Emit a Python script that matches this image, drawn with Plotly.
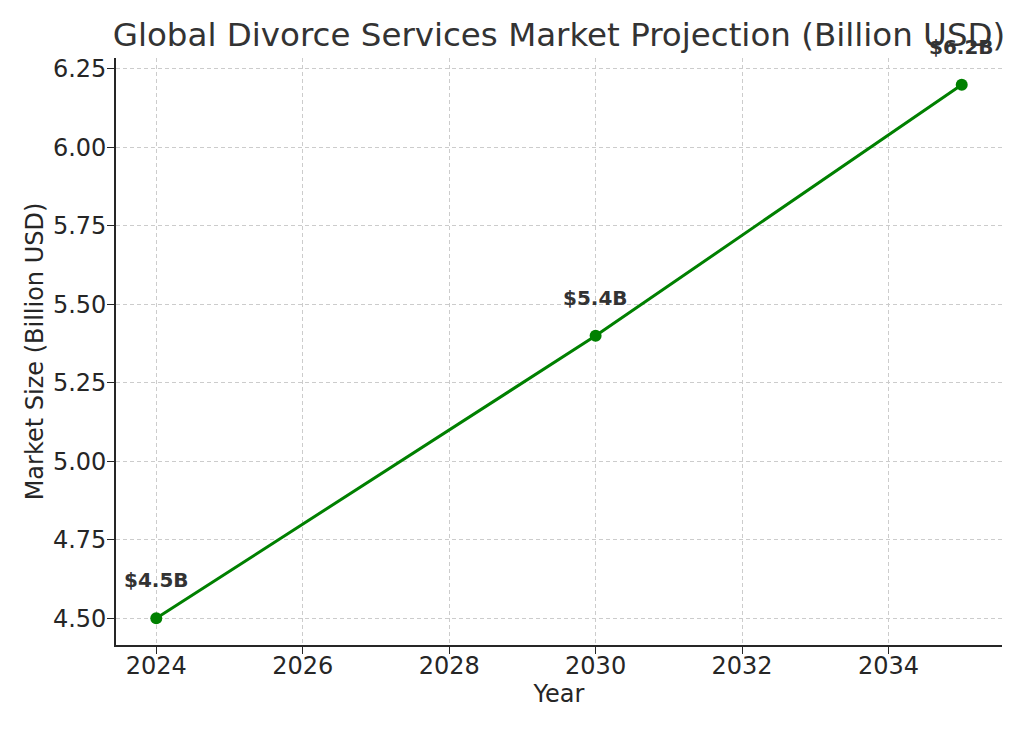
import plotly.graph_objects as go

years = [2024, 2030, 2035]
market_size = [4.5, 5.4, 6.2]
labels = ["$4.5B", "$5.4B", "$6.2B"]
x_ticks = [2024, 2026, 2028, 2030, 2032, 2034]
y_ticks = [4.50, 4.75, 5.00, 5.25, 5.50, 5.75, 6.00, 6.25]

FONT = "DejaVu Sans"
TXT = "#262626"

fig = go.Figure()
fig.add_trace(go.Scatter(
    x=years, y=market_size, mode="lines+markers",
    line=dict(color="#008000", width=3),
    marker=dict(color="#008000", size=12),
    showlegend=False, hoverinfo="skip",
))

for xv, yv, t in zip(years, market_size, labels):
    fig.add_annotation(
        x=xv, y=yv, xref="x", yref="y", text="<b>%s</b>" % t,
        showarrow=False, yshift=38, yanchor="middle", xanchor="center",
        font=dict(family=FONT, size=20, color="#333333"),
    )

span_x = years[-1] - years[0]
span_y = max(market_size) - min(market_size)

fig.update_layout(
    width=1024, height=731,
    margin=dict(l=116, r=22, t=58, b=86),
    paper_bgcolor="white", plot_bgcolor="white",
    font=dict(family=FONT, color=TXT, size=24),
    title=dict(
        text="Global Divorce Services Market Projection (Billion USD)",
        x=0.5, xref="paper", xanchor="center",
        y=1 - 35 / 731, yref="container", yanchor="middle",
        font=dict(family=FONT, size=32.5, color="#333333"),
    ),
    xaxis=dict(
        range=[years[0] - 0.05 * span_x, years[-1] + 0.05 * span_x],
        tickmode="array", tickvals=x_ticks, ticktext=[str(v) for v in x_ticks],
        ticks="outside", ticklen=7, tickwidth=1.3, tickcolor=TXT,
        ticklabelstandoff=-9,
        showline=True, linecolor=TXT, linewidth=1.6, mirror=False,
        showgrid=True, gridcolor="#cccccc", gridwidth=1, griddash="4px,3px",
        zeroline=False,
        tickfont=dict(size=24, color=TXT),
        title=dict(text="Year", font=dict(size=24, color=TXT), standoff=4),
    ),
    yaxis=dict(
        range=[min(market_size) - 0.05 * span_y, max(market_size) + 0.05 * span_y],
        tickmode="array", tickvals=y_ticks, ticktext=["%.2f" % v for v in y_ticks],
        ticks="outside", ticklen=7, tickwidth=1.3, tickcolor=TXT,
        ticklabelstandoff=-4,
        showline=True, linecolor=TXT, linewidth=1.6, mirror=False,
        showgrid=True, gridcolor="#cccccc", gridwidth=1, griddash="4px,3px",
        zeroline=False,
        tickfont=dict(size=24, color=TXT),
        title=dict(text="Market Size (Billion USD)", font=dict(size=24, color=TXT), standoff=3),
    ),
)

fig.write_html("out.html")
